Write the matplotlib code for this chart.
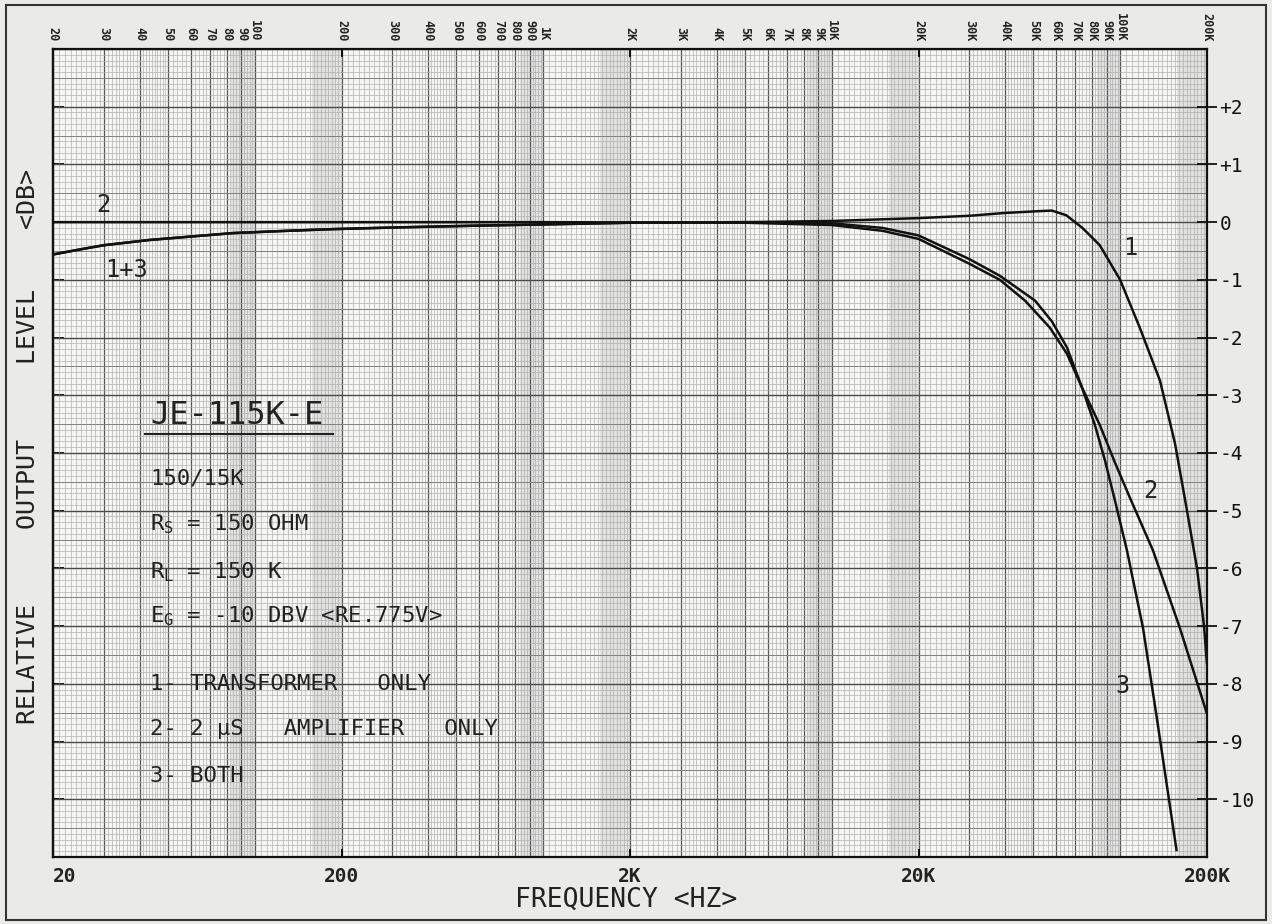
import numpy as np
import matplotlib.pyplot as plt
from matplotlib.lines import Line2D
from matplotlib.patches import Rectangle

plt.rcParams.update({"font.family": ["DejaVu Sans Mono", "DejaVu Sans"],
                     "mathtext.default": "regular"})

# readings: frequency (Hz) and relative level (dB)
freq_1 = [20, 25, 30, 43, 60, 84, 130, 190, 320, 600, 1000, 2000, 5000, 10000,
          20000, 30000, 40000, 52000, 58000, 65000, 74000, 85000, 100000, 117000,
          137500, 155000, 170500, 184700, 195300, 200000]
db_1 = [-0.56, -0.47, -0.40, -0.31, -0.25, -0.19, -0.15, -0.12, -0.09, -0.06,
        -0.04, -0.01, 0.0, 0.02, 0.07, 0.11, 0.16, 0.19, 0.20, 0.12, -0.10,
        -0.40, -1.0, -1.83, -2.75, -3.84, -5.0, -6.0, -7.0, -7.66]

freq_2 = [20, 200, 1000, 5000, 10000, 15000, 20000, 30000, 38300, 46800, 57100,
          65400, 73800, 85100, 96000, 108000, 130000, 161000, 200000]
db_2 = [0.0, 0.0, 0.0, -0.01, -0.05, -0.15, -0.29, -0.72, -1.0, -1.36, -1.83,
        -2.28, -2.87, -3.52, -4.17, -4.77, -5.69, -7.03, -8.52]

freq_3 = [20, 25, 30, 43, 60, 84, 130, 190, 320, 600, 1000, 2000, 5000, 10000,
          15000, 20000, 30000, 38300, 50700, 58000, 65400, 73800, 81800, 88600,
          96000, 105600, 120000, 134000, 157000]
db_3 = [-0.56, -0.47, -0.40, -0.31, -0.25, -0.19, -0.15, -0.12, -0.09, -0.06,
        -0.04, -0.01, 0.0, -0.02, -0.10, -0.23, -0.64, -0.93, -1.36, -1.72,
        -2.17, -2.87, -3.52, -4.13, -4.83, -5.69, -7.03, -8.59, -10.9]

top_ticks = [20, 30, 40, 50, 60, 70, 80, 90, 100, 200, 300, 400, 500, 600, 700,
             800, 900, 1000, 2000, 3000, 4000, 5000, 6000, 7000, 8000, 9000,
             10000, 20000, 30000, 40000, 50000, 60000, 70000, 80000, 90000,
             100000, 200000]
top_labels = ["20", "30", "40", "50", "60", "70", "80", "90", "100", "200", "300",
              "400", "500", "600", "700", "800", "900", "1K", "2K", "3K", "4K",
              "5K", "6K", "7K", "8K", "9K", "10K", "20K", "30K", "40K", "50K",
              "60K", "70K", "80K", "90K", "100K", "200K"]
bottom_ticks = [20, 200, 2000, 20000, 200000]
bottom_labels = ["20", "200", "2K", "20K", "200K"]
db_ticks = [2, 1, 0, -1, -2, -3, -4, -5, -6, -7, -8, -9, -10]
db_labels = ["+2", "+1", "0", "-1", "-2", "-3", "-4", "-5", "-6", "-7", "-8",
             "-9", "-10"]

notes = ["150/15K", "R$_S$ = 150 OHM", "R$_L$ = 150 K",
         "E$_G$ = -10 DBV <RE.775V>", "1- TRANSFORMER   ONLY",
         "2- 2 µS   AMPLIFIER   ONLY", "3- BOTH"]
note_db = [-4.44, -5.23, -6.06, -6.82, -8.0, -8.78, -9.6]

W, H = 1272, 924
fig = plt.figure(figsize=(W / 100, H / 100), dpi=100, facecolor="#eaeae8")
ax = fig.add_axes([53 / W, 1 - 857 / H, 1154 / W, 808 / H], facecolor="#f5f5f3")
ax.set_xscale("log")
ax.set_xlim(20, 200000)
ax.set_ylim(-11, 3)

# graph paper
for d in [10, 100, 1000, 10000]:
    ax.axvspan(8.3 * d, 10 * d, color="k", alpha=0.08, lw=0, zorder=0)
    ax.axvspan(15.8 * d, 20 * d, color="k", alpha=0.08, lw=0, zorder=0)

fine, major = [], []
for d in [10, 100, 1000, 10000, 100000]:
    steps = np.concatenate([np.arange(1, 2, 0.05), np.arange(2, 5, 0.1),
                            np.arange(5, 10, 0.2)])
    for s in steps:
        v = s * d
        if v <= 20 or v >= 200000:
            continue
        if abs(s - round(s)) < 1e-6:
            major.append(v)
        else:
            fine.append(v)
ax.vlines(fine, -11, 3, color="#acacac", lw=0.45, zorder=1)
ax.vlines(major, -11, 3, color="#585858", lw=0.9, zorder=1)

levels = np.arange(-110, 31) / 10
lv_fine = [v for v in levels if abs(v * 2 - round(v * 2)) > 1e-6]
lv_half = [v for v in levels if abs(v * 2 - round(v * 2)) < 1e-6 and abs(v - round(v)) > 1e-6]
lv_major = [v for v in levels if abs(v - round(v)) < 1e-6]
ax.hlines(lv_fine, 20, 200000, color="#acacac", lw=0.45, zorder=1)
ax.hlines(lv_half, 20, 200000, color="#808080", lw=0.7, zorder=1)
ax.hlines(lv_major, 20, 200000, color="#4a4a4a", lw=1.0, zorder=1)

# curves
for f, db in [(freq_1, db_1), (freq_2, db_2), (freq_3, db_3)]:
    ax.plot(f, db, color="#111111", lw=1.8, zorder=3, solid_capstyle="butt")

# axes
for sp in ax.spines.values():
    sp.set_linewidth(1.6)
    sp.set_color("#111111")
ax.xaxis.set_minor_locator(plt.NullLocator())
ax.yaxis.set_minor_locator(plt.NullLocator())
ax.set_xticks(bottom_ticks)
ax.tick_params(axis="x", which="both", direction="in", length=6, width=1.3,
               top=True, bottom=True, labelbottom=False)
ax.yaxis.tick_right()
ax.set_yticks(db_ticks, labels=db_labels)
ax.tick_params(axis="y", direction="inout", length=14, width=1.3, pad=2,
               labelsize=14, colors="#111111")
left = ax.secondary_yaxis("left")
left.set_yticks(db_ticks)
left.tick_params(direction="in", length=8, width=1.3, labelleft=False)
left.spines["left"].set_linewidth(1.6)

xt = ax.get_xaxis_transform()
for f, lbl in zip(top_ticks, top_labels):
    ax.text(f, 1.009, lbl, transform=xt, rotation=270, ha="center", va="bottom",
            fontsize=8.5, fontweight="bold", color="#222222")
for f, lbl in zip(bottom_ticks, bottom_labels):
    ha = "left" if f == 20 else "center"
    ax.text(f, -0.012, lbl, transform=xt, ha=ha, va="top", fontsize=14,
            fontweight="bold", color="#222222")

fig.text(626 / W, 1 - 900 / H, "FREQUENCY <HZ>", ha="center", va="center",
         fontsize=19, color="#222222")
fig.text(28 / W, 1 - 447 / H, "RELATIVE     OUTPUT     LEVEL    <DB>",
         rotation=90, ha="center", va="center", fontsize=18, color="#222222")

# curve labels
ax.text(30, 0.3, "2", fontsize=17, ha="center", va="center", color="#222222")
ax.text(36, -0.83, "1+3", fontsize=17, ha="center", va="center", color="#222222")
ax.text(108000, -0.45, "1", fontsize=17, ha="center", va="center", color="#222222")
ax.text(127000, -4.65, "2", fontsize=17, ha="center", va="center", color="#222222")
ax.text(102000, -8.04, "3", fontsize=17, ha="center", va="center", color="#222222")

# description block
title = ax.text(43.4, -3.35, "JE-115K-E", fontsize=23, ha="left", va="center",
                color="#222222")
for txt, y in zip(notes, note_db):
    ax.text(43.4, y, txt, fontsize=16, ha="left", va="center", color="#222222")

fig.canvas.draw()
bb = title.get_window_extent().transformed(fig.transFigure.inverted())
fig.add_artist(Line2D([bb.x0 - 5 / W, bb.x1 + 10 / W], [bb.y0 - 3 / H] * 2,
                      transform=fig.transFigure, color="#222222", lw=1.5))

fig.add_artist(Rectangle((6 / W, 4 / H), 1260 / W, 915 / H, transform=fig.transFigure,
                         fill=False, ec="#333333", lw=1.5))

fig.savefig("out.png", dpi=100, facecolor=fig.get_facecolor())
